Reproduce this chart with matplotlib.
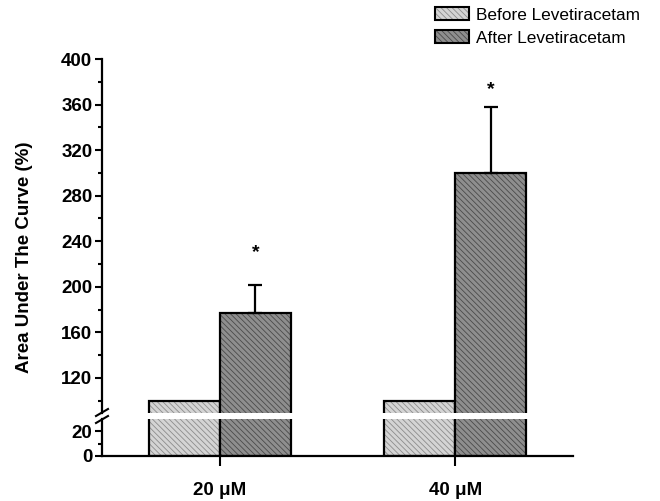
import matplotlib.pyplot as plt
from matplotlib.patches import Patch

plt.rcParams['font.family'] = ['Liberation Sans', 'DejaVu Sans']
plt.rcParams['hatch.linewidth'] = 0.6

# data
groups = ['20 \u03bcM', '40 \u03bcM']
before = [100, 100]
after = [177, 300]
after_err = [25, 58]
star_y = [230, 373]
labels = ['Before Levetiracetam', 'After Levetiracetam']

face_before = '#d4d4d4'
hatch_before = '#8c8c8c'
face_after = '#8e8e8e'
hatch_after = '#4a4a4a'
HATCH = '\\' * 6

W, H = 660, 501
fig = plt.figure(figsize=(W / 100, H / 100), dpi=100)

def box(x0, x1, ytop, ybot):
    return [x0 / W, 1 - ybot / H, (x1 - x0) / W, (ybot - ytop) / H]

ax_top = fig.add_axes(box(102, 573, 59, 413))
ax_bot = fig.add_axes(box(102, 573, 419, 456))

x = [1, 2]
w = 0.302
xb = [i - w / 2 for i in x]
xa = [i + w / 2 for i in x]

for ax in (ax_top, ax_bot):
    ax.bar(xb, before, w, color=face_before, hatch=HATCH, edgecolor=hatch_before, linewidth=0)
    ax.bar(xb, before, w, fill=False, edgecolor='black', linewidth=1.6)
    ax.bar(xa, after, w, color=face_after, hatch=HATCH, edgecolor=hatch_after, linewidth=0)
    ax.bar(xa, after, w, fill=False, edgecolor='black', linewidth=1.6)
    ax.set_xlim(0.5, 2.5)
    for s in ('top', 'right'):
        ax.spines[s].set_visible(False)
    ax.spines['left'].set_linewidth(1.6)
    ax.spines['bottom'].set_linewidth(1.6)
    ax.tick_params(axis='y', which='major', direction='out', length=5, width=1.5,
                   labelsize=13.5, pad=2)
    ax.tick_params(axis='y', which='minor', direction='out', length=3, width=1.5)

ax_top.errorbar(xa, after, yerr=[[0, 0], after_err], fmt='none', ecolor='black',
                elinewidth=1.6, capsize=5, capthick=1.6)
for xi, yi in zip(xa, star_y):
    ax_top.text(xi, yi, '*', ha='center', va='center', fontsize=14, fontweight='bold')

ax_top.set_ylim(89.2, 400)
ax_top.set_yticks(range(120, 401, 40))
ax_top.set_yticks(range(100, 400, 40), minor=True)
ax_top.spines['bottom'].set_visible(False)
ax_top.set_xticks([])
for t in ax_top.get_yticklabels():
    t.set_fontweight('bold')

ax_bot.set_ylim(0, 30)
ax_bot.set_yticks([0, 20])
ax_bot.set_yticks([10], minor=True)
ax_bot.set_xticks(x)
ax_bot.set_xticklabels(groups, fontsize=13.5, fontweight='bold')
ax_bot.tick_params(axis='x', direction='out', length=7, width=1.5, pad=12)
for t in ax_bot.get_yticklabels():
    t.set_fontweight('bold')

# axis break marks
for y0 in (413, 420):
    fig.add_artist(plt.Line2D([96 / W, 108 / W], [1 - (y0 + 3) / H, 1 - (y0 - 4) / H],
                              color='black', linewidth=1.5))

fig.text(25 / W, 1 - 257 / H, 'Area Under The Curve (%)', rotation=90,
         ha='center', va='center', fontsize=13.5, fontweight='bold')

handles = [
    (Patch(facecolor=face_before, hatch=HATCH, edgecolor=hatch_before, linewidth=0),
     Patch(fill=False, edgecolor='black', linewidth=1.5)),
    (Patch(facecolor=face_after, hatch=HATCH, edgecolor=hatch_after, linewidth=0),
     Patch(fill=False, edgecolor='black', linewidth=1.5)),
]
fig.legend(handles, labels, loc='upper left', bbox_to_anchor=(435 / W, 1 - 7 / H),
           frameon=False, fontsize=12.4, handlelength=2.0, handleheight=0.8,
           handletextpad=0.4, labelspacing=0.45, borderpad=0, borderaxespad=0)

fig.savefig('out.png', dpi=100)
